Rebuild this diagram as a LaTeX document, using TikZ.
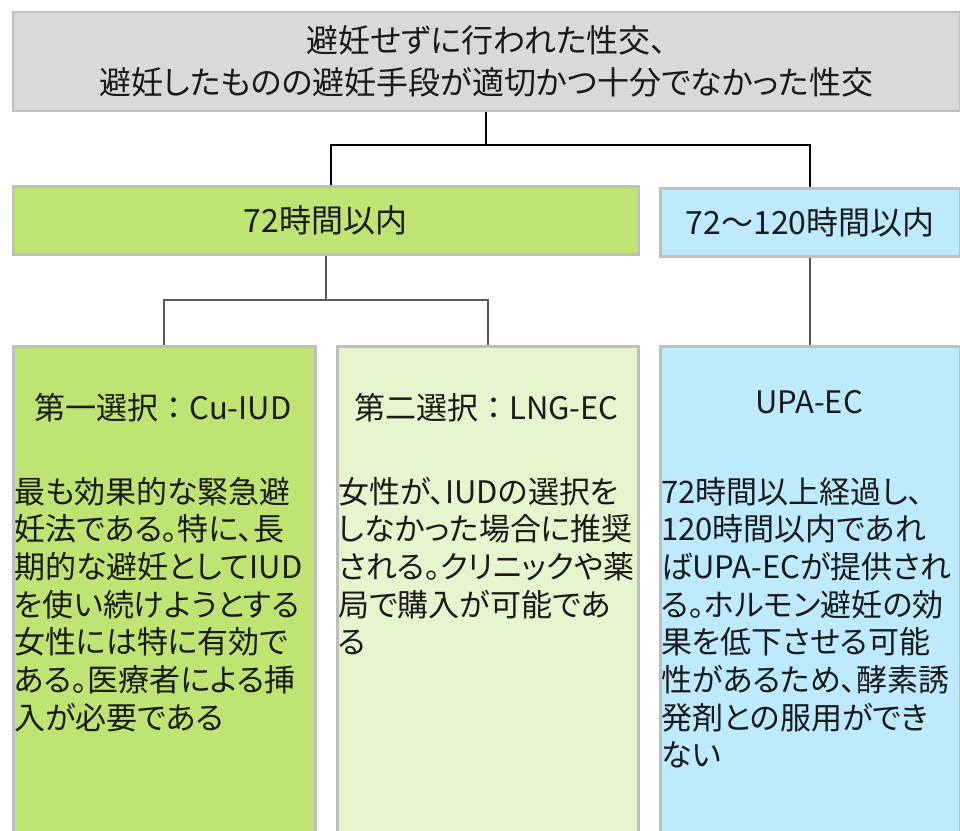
\documentclass[tikz,border=0pt]{standalone}
\usepackage{fontspec}
\setmainfont{Noto Sans CJK JP}[RawFeature=+palt]
\newfontfamily\jpfull{Noto Sans CJK JP}
\definecolor{topgray}{HTML}{D9D9D9}
\definecolor{boxgray}{HTML}{BFBFBF}
\definecolor{green1}{HTML}{BEE473}
\definecolor{green2}{HTML}{E6F5CD}
\definecolor{blue1}{HTML}{BEEAFD}
\definecolor{conngray}{HTML}{595959}
\definecolor{ink}{HTML}{1A1A1A}
\begin{document}
\begin{tikzpicture}[x=1pt,y=-1pt,
  box/.style={draw=boxgray, line width=2.5pt, inner sep=0pt, anchor=north west, text=ink},
  conn/.style={line width=1.8pt, draw=#1},
  conn/.default=black,
  titletxt/.style={font=\fontsize{31}{36}\selectfont, anchor=base, inner sep=0pt, text=ink},
  bodytxt/.style={font=\fontsize{31}{38}\selectfont, anchor=base west, inner sep=0pt, text=ink}]
\useasboundingbox (0,0) rectangle (960,830);
\clip (0,0) rectangle (960,830);
\fill[white] (0,0) rectangle (960,830);

% boxes
\node[box, fill=topgray, minimum width=947pt, minimum height=99pt, align=center,
      font=\fontsize{32}{42}\selectfont] (top) at (11.5,10.5)
      {避妊せずに行われた性交、\\避妊したものの避妊手段が適切かつ十分でなかった性交};
\node[box, fill=green1, minimum width=626pt, minimum height=68pt,
      font=\fontsize{32}{36}\selectfont] (g72) at (11.5,185) {72時間以内};
\node[box, fill=blue1, minimum width=300pt, minimum height=68pt,
      font=\fontsize{32}{36}\selectfont] (b120) at (659,187) {72{\jpfull ～}120時間以内};
\node[box, fill=green1, minimum width=302pt, minimum height=520pt] (c1) at (12,345) {};
\node[box, fill=green2, minimum width=301pt, minimum height=520pt] (c2) at (336,345) {};
\node[box, fill=blue1, minimum width=300pt, minimum height=520pt] (c3) at (659,345) {};

% connectors
\coordinate (j1) at (331,145);
\coordinate (j2) at (324,300);
\draw[conn] (top.south) -- (top.south |- j1) -| (b120.north);
\draw[conn] (top.south |- j1) -- (j1) -- (j1 |- g72.north);
\draw[conn=conngray] (g72.south) -- (g72.south |- j2) -| (c1.north);
\draw[conn=conngray] (g72.south |- j2) -| (c2.north);
\draw[conn=conngray] (b120.south) -- (c3.north);

% titles
\node[titletxt] (t1) at (163,419) {第一選択{\jpfull ：}Cu-IUD};
\node[titletxt] (t2) at (486.5,419) {第二選択{\jpfull ：}LNG-EC};
\node[titletxt] (t3) at (809,413) {UPA-EC};

% body texts
\foreach \t [count=\i] in {最も効果的な緊急避,妊法である。特に、長,期的な避妊としてIUD,を使い続けようとする,女性には特に有効で,ある。医療者による挿,入が必要である}
  \node[bodytxt] (a\i) at (14,{503+37.7*(\i-1)}) {\t};
\foreach \t [count=\i] in {女性が、IUDの選択を,しなかった場合に推奨,される。クリニックや薬,局で購入が可能であ,る}
  \node[bodytxt] (b\i) at (338,{503+37.7*(\i-1)}) {\t};
\foreach \t [count=\i] in {72時間以上経過し、,120時間以内であれ,ばUPA-ECが提供され,る。ホルモン避妊の効,果を低下させる可能,性があるため、酵素誘,発剤との服用ができ,ない}
  \node[bodytxt] (d\i) at (661,{503+37.7*(\i-1)}) {\t};
\end{tikzpicture}
\end{document}
